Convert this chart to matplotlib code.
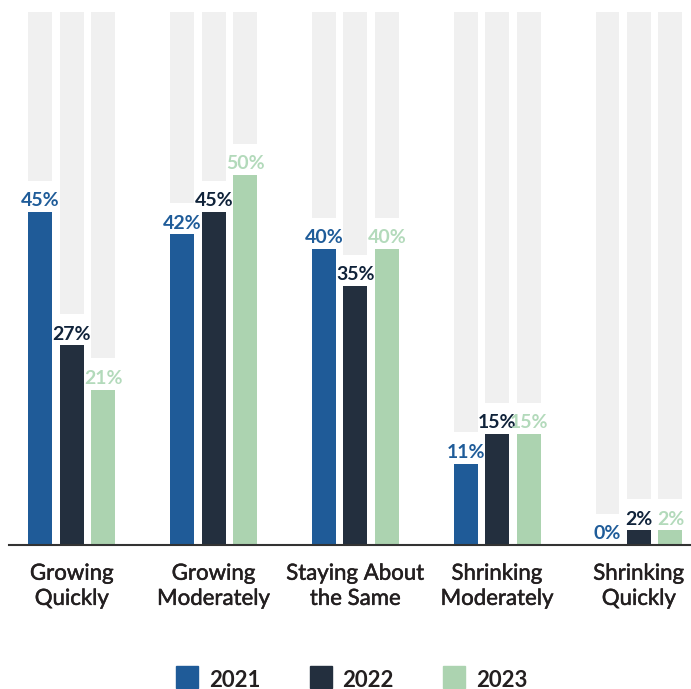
import matplotlib.pyplot as plt
import matplotlib.patheffects as pe
from matplotlib.patches import Rectangle
import numpy as np

categories = ["Growing\nQuickly", "Growing\nModerately", "Staying About\nthe Same",
              "Shrinking\nModerately", "Shrinking\nQuickly"]
years = ["2021", "2022", "2023"]
v2021 = [45, 42, 40, 11, 0]
v2022 = [27, 45, 35, 15, 2]
v2023 = [21, 50, 40, 15, 2]

bar_colors = ["#1f5b98", "#232f3e", "#acd3b0"]
label_colors = ["#1f5c99", "#10233a", "#b3dabb"]
track_color = "#f0f0f0"
text_color = "#231f20"

plt.rcParams['font.family'] = ['Lato', 'DejaVu Sans']

fig = plt.figure(figsize=(6.91, 6.89), dpi=100)
ax = fig.add_axes([9 / 691, (689 - 545) / 689, 682 / 691, 533 / 689])

ymax = 72
gap = 4.2
width = 0.169
offsets = [-0.222, 0, 0.222]
x = np.arange(len(categories))

for series, off, col, lcol in zip([v2021, v2022, v2023], offsets, bar_colors, label_colors):
    vals = np.array(series, dtype=float)
    # grey track above each bar, separated by a gap for the label
    ax.bar(x + off, ymax - (vals + gap), bottom=vals + gap, width=width,
           color=track_color, zorder=1)
    ax.bar(x + off, vals, width=width, color=col, zorder=2)
    for xi, v in zip(x + off, vals):
        ax.annotate(f"{int(v)}%", (xi, v), xytext=(0, 4), textcoords="offset points",
                    ha="center", va="baseline", fontsize=14, fontweight="bold",
                    color=lcol, zorder=3)

ax.set_xlim(-0.444, 4.367)
ax.set_ylim(0, ymax)
ax.set_yticks([])
ax.set_xticks(x)
ax.set_xticklabels(categories, fontsize=16, color=text_color, linespacing=1.32)
# slightly heavier strokes for the category names
for lbl in ax.get_xticklabels():
    lbl.set_path_effects([pe.withStroke(linewidth=0.35, foreground=text_color)])
ax.tick_params(axis="x", length=0, pad=13.5)
for s in ["top", "left", "right"]:
    ax.spines[s].set_visible(False)
ax.spines["bottom"].set_color("#333333")
ax.spines["bottom"].set_linewidth(1.5)

# legend along the bottom edge
for i, (yr, col) in enumerate(zip(years, bar_colors)):
    x0 = 176 + i * 133.5
    fig.patches.append(Rectangle((x0 / 691, 1 / 689), 22 / 691, 22 / 689,
                                 transform=fig.transFigure, color=col))
    fig.text((x0 + 33) / 691, 2 / 689, yr, fontsize=16, fontweight="bold",
             color=text_color, ha="left", va="baseline")

fig.savefig("out.png", dpi=100)
